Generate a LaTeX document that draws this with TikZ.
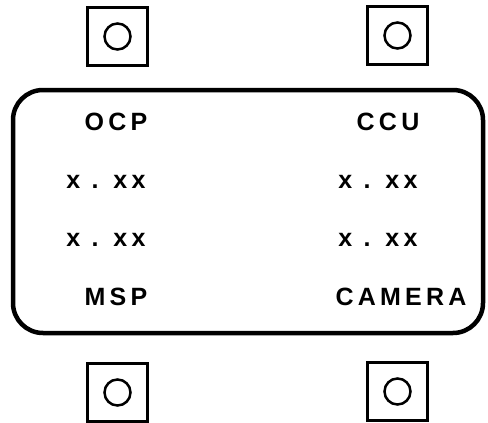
\documentclass[tikz,border=0pt]{standalone}
\usepackage{fontspec}
\newfontfamily\panelfont[LetterSpace=17]{Liberation Sans}

\begin{document}
\begin{tikzpicture}[x=1pt,y=-1pt]

\tikzset{button/.style = {shape=rectangle,draw,line width=3pt,minimum width=60pt,minimum height=58pt}}
\tikzset{knob/.style = {shape=circle,draw,line width=2.5pt,minimum size=26pt,inner sep=0pt}}
\tikzset{lcd/.style = {font=\panelfont\bfseries\fontsize{25}{30}\selectfont,inner sep=0pt}}

\useasboundingbox (0,0) rectangle (488,423);

% display panel
\node[draw,line width=4.5pt,rounded corners=30pt,minimum width=470pt,minimum height=243pt] (panel) at (248,211.5) {};

\node[lcd] (t0) at (116,122) {OCP};
\node[lcd] (t1) at (388,122) {CCU};
\node[lcd] (v0) at (106,182) {x . xx};
\node[lcd] (v1) at (378,182) {x . xx};
\node[lcd] (v2) at (106,240) {x . xx};
\node[lcd] (v3) at (378,240) {x . xx};
\node[lcd] (b0) at (116,297) {MSP};
\node[lcd] (b1) at (401,297) {CAMERA};

% push buttons
\node[button] (s0) at (117.5,36.5) {};
\node[button] (s1) at (397.5,35.5) {};
\node[button] (s2) at (117.5,392.5) {};
\node[button] (s3) at (397.5,391.5) {};

\node[knob] (k0) at (s0) {};
\node[knob] (k1) at (s1) {};
\node[knob] (k2) at (s2) {};
\node[knob] (k3) at (s3) {};

\end{tikzpicture}
\end{document}
